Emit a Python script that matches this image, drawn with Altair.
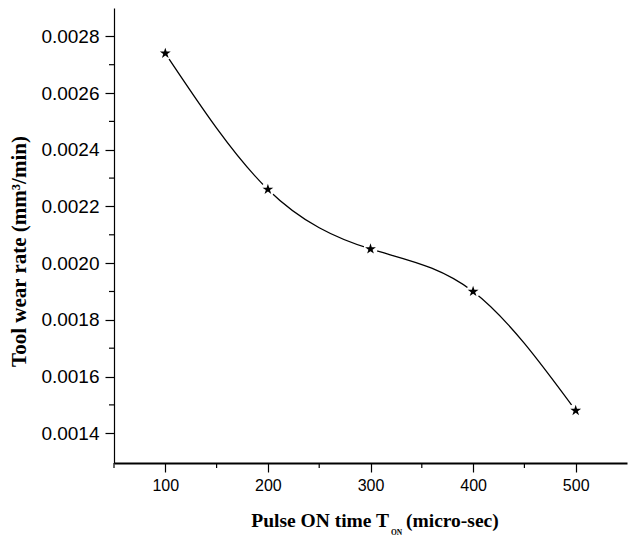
import altair as alt
import pandas as pd

# Data
pulse_on = [100, 200, 300, 400, 500]
tool_wear = [0.00274, 0.00226, 0.00205, 0.00190, 0.00148]

y_major = [0.0014, 0.0016, 0.0018, 0.0020, 0.0022, 0.0024, 0.0026, 0.0028]
y_minor = [0.0015, 0.0017, 0.0019, 0.0021, 0.0023, 0.0025, 0.0027]
x_major = [100, 200, 300, 400, 500]
x_minor = [50, 150, 250, 350, 450]

x_title_main = "Pulse ON time T"
x_title_sub = "ON"
x_title_unit = "(micro-sec)"

df = pd.DataFrame({"x": pulse_on, "y": tool_wear})
df_ym = pd.DataFrame({"y": y_minor})
df_xm = pd.DataFrame({"x": x_minor})

W, H = 513, 455
STAR = ("M0,-1L0.2245,-0.309L0.951,-0.309L0.363,0.118L0.588,0.809L0,0.382"
        "L-0.588,0.809L-0.363,0.118L-0.951,-0.309L-0.2245,-0.309Z")

xscale = alt.Scale(domain=[50, 550], nice=False, zero=False)
yscale = alt.Scale(domain=[0.001295, 0.0029], nice=False, zero=False)

xaxis = alt.Axis(
    values=x_major, format="d", grid=False,
    domainColor="black", domainWidth=2,
    tickColor="black", tickSize=9, tickWidth=1.2,
    labelFont="Liberation Sans", labelFontSize=16, labelColor="black", labelPadding=5,
    title=None,
)
yaxis = alt.Axis(
    values=y_major, format=".4f", grid=False,
    domainColor="black", domainWidth=1.2,
    tickColor="black", tickSize=9, tickWidth=1.2,
    labelFont="Liberation Sans", labelFontSize=19, labelColor="black", labelPadding=6,
    title="Tool wear rate (mm\u00b3/min)",
    titleFont="Liberation Serif", titleFontSize=21, titleFontWeight="bold",
    titleColor="black", titleBaseline="middle", titleX=-95, titleY=243, titleAngle=270,
)

base = alt.Chart(df)

line = base.mark_line(interpolate="natural", color="black", strokeWidth=1.3).encode(
    x=alt.X("x:Q", scale=xscale, axis=xaxis),
    y=alt.Y("y:Q", scale=yscale, axis=yaxis),
)
gaps = base.mark_point(shape="circle", filled=True, color="white", size=200, opacity=1).encode(
    x=alt.X("x:Q", scale=xscale), y=alt.Y("y:Q", scale=yscale)
)
stars = base.mark_point(shape=STAR, filled=True, color="black", size=130, opacity=1).encode(
    x=alt.X("x:Q", scale=xscale), y=alt.Y("y:Q", scale=yscale)
)
yminor = alt.Chart(df_ym).mark_rule(color="black", strokeWidth=1.2).encode(
    y=alt.Y("y:Q", scale=yscale), x=alt.value(-5), x2=alt.value(0)
)
xminor = alt.Chart(df_xm).mark_rule(color="black", strokeWidth=1.2).encode(
    x=alt.X("x:Q", scale=xscale), y=alt.value(H), y2=alt.value(H + 5)
)

title_style = dict(font="Liberation Serif", fontSize=19.5, fontWeight="bold",
                   color="black", baseline="middle")
t_main = alt.Chart(pd.DataFrame({"t": [x_title_main]})).mark_text(
    align="right", **title_style
).encode(text="t:N", x=alt.value(275), y=alt.value(H + 58))
t_sub = alt.Chart(pd.DataFrame({"t": [x_title_sub]})).mark_text(
    font="Liberation Serif", fontSize=7.5, fontWeight="bold", color="black",
    align="left", baseline="middle",
).encode(text="t:N", x=alt.value(277), y=alt.value(H + 70))
t_unit = alt.Chart(pd.DataFrame({"t": [x_title_unit]})).mark_text(
    align="left", **title_style
).encode(text="t:N", x=alt.value(292), y=alt.value(H + 58))

chart = alt.layer(line, gaps, stars, yminor, xminor, t_main, t_sub, t_unit).properties(
    width=W, height=H,
    autosize=alt.AutoSizeParams(type="none"),
    padding={"left": 114, "top": 8, "right": 2, "bottom": 75},
    background="white",
).configure_view(stroke=None)

chart.save("out.html", embed_options={"renderer": "svg", "actions": False})
